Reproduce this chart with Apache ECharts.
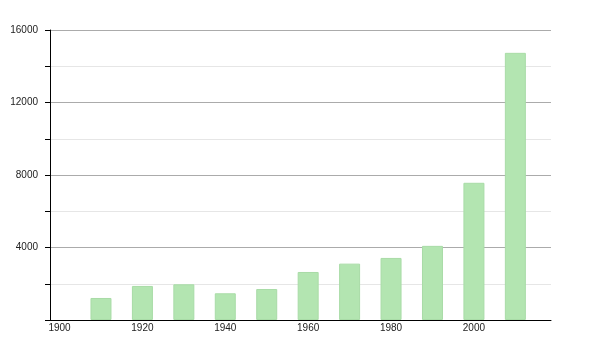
<!DOCTYPE html>
<html><head><meta charset="utf-8">
<script src="https://cdn.jsdelivr.net/npm/echarts@6/dist/echarts.min.js"></script>
<style>html,body{margin:0;padding:0;background:#fff}#c{width:600px;height:350px}</style>
</head><body><div id="c"></div>
<script>
const years = [1910, 1920, 1930, 1940, 1950, 1960, 1970, 1980, 1990, 2000, 2010];
const population = [1215, 1880, 1970, 1475, 1710, 2650, 3110, 3425, 4090, 7570, 14740];
const xTickLabels = [1900, 1920, 1940, 1960, 1980, 2000];
const yTickLabels = [4000, 8000, 12000, 16000];

const chart = echarts.init(document.getElementById('c'), null, {renderer: 'canvas'});
chart.setOption({
  animation: false,
  grid: {left: 50, right: 49, top: 30, bottom: 30, containLabel: false},
  xAxis: {
    type: 'value', min: 1897.7, max: 2018.6,
    axisLine: {show: true, lineStyle: {color: '#000', width: 1}},
    axisTick: {show: false},
    splitLine: {show: false},
    axisLabel: {
      customValues: xTickLabels, margin: 3,
      fontFamily: 'Liberation Sans', fontSize: 10, color: '#222',
      formatter: v => String(Math.round(v))
    }
  },
  yAxis: {
    type: 'value', min: 0, max: 16000, interval: 4000,
    axisLine: {show: true, lineStyle: {color: '#000', width: 1}},
    axisTick: {show: true, length: 5, lineStyle: {color: '#000'}},
    minorTick: {show: true, splitNumber: 2, length: 5, lineStyle: {color: '#000'}},
    splitLine: {show: true, lineStyle: {color: '#ababab', width: 1}},
    minorSplitLine: {show: true, lineStyle: {color: '#e6e6e6', width: 1}},
    axisLabel: {
      margin: 12, fontFamily: 'Liberation Sans', fontSize: 10, color: '#222',
      formatter: v => (yTickLabels.includes(v) ? String(v) : '')
    }
  },
  series: [{
    type: 'bar',
    barWidth: 21,
    data: years.map((y, i) => [y, population[i]]),
    itemStyle: {color: '#b3e5b1', borderColor: '#a9dca7', borderWidth: 1}
  }]
});
</script></body></html>
